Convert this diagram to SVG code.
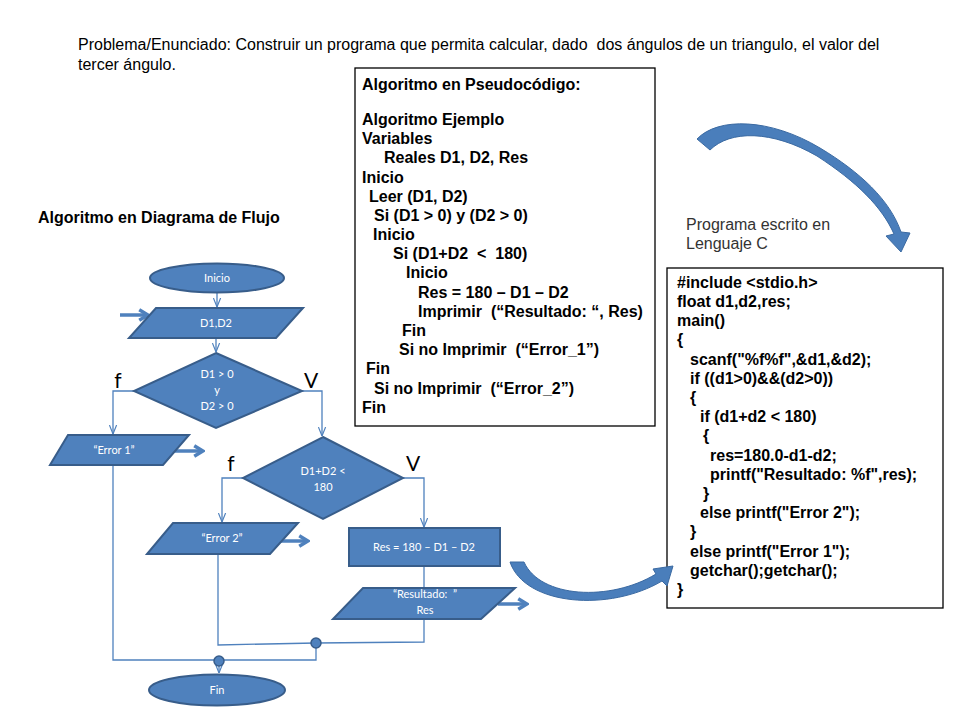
<svg xmlns="http://www.w3.org/2000/svg" width="960" height="720" viewBox="0 0 960 720">
<defs>
<style>
.shape{fill:#4F81BD;stroke:#385D8A;stroke-width:2}
.ft{font-family:Lato,"Open Sans","Liberation Sans",sans-serif;font-size:11px;fill:#ffffff;text-anchor:middle}
.lbl{font-family:Lato,"Open Sans","Liberation Sans",sans-serif;font-size:21px;fill:#000000;text-anchor:middle}
.conn{fill:none;stroke:#4F81BD;stroke-width:1.3}
.thick{fill:none;stroke:#4F81BD;stroke-width:3.5}
.code{font-family:"Liberation Sans",Arial,sans-serif;font-size:16px;font-weight:bold;fill:#000000}
.reg{font-family:"Liberation Sans",Arial,sans-serif;font-size:16px;fill:#000000}
.box{fill:#ffffff;stroke:#000000;stroke-width:1.3}
.big{fill:#4A7EBB;stroke:#3B6AA2;stroke-width:1}
.dot{fill:#4F81BD;stroke:#385D8A;stroke-width:1.5}
</style>
<marker id="v" viewBox="0 0 10 10" refX="10" refY="5" markerWidth="9" markerHeight="9" orient="auto" markerUnits="userSpaceOnUse">
<path d="M0,1 L10,5 L0,9" fill="none" stroke="#4F81BD" stroke-width="1.3"/>
</marker>
<marker id="vt" viewBox="0 0 12 12" refX="10.5" refY="6" markerWidth="14" markerHeight="14" orient="auto" markerUnits="userSpaceOnUse">
<path d="M3,1.5 L10.5,6 L3,10.5" fill="none" stroke="#4F81BD" stroke-width="3"/>
</marker>
</defs>
<rect width="960" height="720" fill="#ffffff"/>

<g id="title">
<text class="reg" x="78" y="50" xml:space="preserve">Problema/Enunciado: Construir un programa que permita calcular, dado  dos ángulos de un triangulo, el valor del</text>
<text class="reg" x="78" y="70">tercer ángulo.</text>
</g>

<g id="pseudocode">
<rect class="box" x="355" y="68" width="300" height="358"/>
<text class="code" x="362" y="90">Algoritmo en Pseudocódigo:</text>
<text class="code" x="362" y="125">Algoritmo Ejemplo</text>
<text class="code" x="362" y="144">Variables</text>
<text class="code" x="384" y="163">Reales D1, D2, Res</text>
<text class="code" x="362" y="183">Inicio</text>
<text class="code" x="369" y="202">Leer (D1, D2)</text>
<text class="code" x="374" y="221">Si (D1 &gt; 0) y (D2 &gt; 0)</text>
<text class="code" x="373" y="240">Inicio</text>
<text class="code" x="393" y="259" xml:space="preserve">Si (D1+D2  &lt;  180)</text>
<text class="code" x="406" y="278">Inicio</text>
<text class="code" x="418" y="298">Res = 180 – D1 – D2</text>
<text class="code" x="418" y="317" xml:space="preserve">Imprimir  (“Resultado: “, Res)</text>
<text class="code" x="402" y="336">Fin</text>
<text class="code" x="399" y="355" xml:space="preserve">Si no Imprimir  (“Error_1”)</text>
<text class="code" x="366" y="374">Fin</text>
<text class="code" x="374" y="394" xml:space="preserve">Si no Imprimir  (“Error_2”)</text>
<text class="code" x="362" y="413">Fin</text>
</g>

<g id="flow-title">
<text class="code" x="38" y="223">Algoritmo en Diagrama de Flujo</text>
</g>

<g id="c-label">
<text class="reg" x="686" y="230" style="fill:#333333">Programa escrito en</text>
<text class="reg" x="686" y="249" style="fill:#333333">Lenguaje C</text>
</g>

<g id="c-code">
<rect class="box" x="667" y="268" width="276" height="340"/>
<text class="code" x="677" y="288">#include &lt;stdio.h&gt;</text>
<text class="code" x="677" y="307">float d1,d2,res;</text>
<text class="code" x="677" y="326">main()</text>
<text class="code" x="677" y="345">{</text>
<text class="code" x="690" y="365">scanf("%f%f",&amp;d1,&amp;d2);</text>
<text class="code" x="690" y="384">if ((d1&gt;0)&amp;&amp;(d2&gt;0))</text>
<text class="code" x="690" y="403">{</text>
<text class="code" x="700" y="422">if (d1+d2 &lt; 180)</text>
<text class="code" x="703" y="441">{</text>
<text class="code" x="710" y="461">res=180.0-d1-d2;</text>
<text class="code" x="710" y="480">printf("Resultado: %f",res);</text>
<text class="code" x="703" y="499">}</text>
<text class="code" x="700" y="518">else printf("Error 2");</text>
<text class="code" x="690" y="537">}</text>
<text class="code" x="690" y="557">else printf("Error 1");</text>
<text class="code" x="690" y="576">getchar();getchar();</text>
<text class="code" x="677" y="595">}</text>
</g>

<g id="connectors">
<line class="conn" x1="217" y1="293" x2="217" y2="307" marker-end="url(#v)"/>
<line class="conn" x1="216" y1="338" x2="216" y2="352" marker-end="url(#v)"/>
<path class="conn" d="M135,391 H113 V434" marker-end="url(#v)"/>
<path class="conn" d="M302,391 H322 V436" marker-end="url(#v)"/>
<path class="conn" d="M244,478 H222 V522" marker-end="url(#v)"/>
<path class="conn" d="M402,478 H424 V527" marker-end="url(#v)"/>
<line class="conn" x1="424" y1="566" x2="424" y2="588"/>
<path class="conn" d="M113,465 V660 H316 V643"/>
<path class="conn" d="M218,554 V645 L316,643 L424,642 V619"/>
<line class="conn" x1="219" y1="661" x2="219" y2="673" marker-end="url(#v)"/>
<line class="thick" x1="120" y1="315" x2="148" y2="315" marker-end="url(#vt)"/>
<line class="thick" x1="175" y1="451" x2="203" y2="451" marker-end="url(#vt)"/>
<line class="thick" x1="281" y1="541" x2="308" y2="541" marker-end="url(#vt)"/>
<line class="thick" x1="498" y1="604" x2="527" y2="604" marker-end="url(#vt)"/>
<circle class="dot" cx="316" cy="643" r="5"/>
<circle class="dot" cx="219" cy="661" r="5"/>
</g>

<g id="inicio">
<ellipse class="shape" cx="217" cy="278" rx="67" ry="14.5"/>
<text class="ft" x="217" y="282">Inicio</text>
</g>
<g id="leer">
<polygon class="shape" points="156,308 303,308 276,338 129,338"/>
<text class="ft" x="216" y="327">D1,D2</text>
</g>
<g id="decision1">
<polygon class="shape" points="216,353 302,391 216,428 134,391"/>
<text class="ft" x="217" y="378">D1 &gt; 0</text>
<text class="ft" x="217" y="394">y</text>
<text class="ft" x="217" y="410">D2 &gt; 0</text>
</g>
<g id="label-f1"><text class="lbl" x="118" y="388">f</text></g>
<g id="label-v1"><text class="lbl" x="311" y="388">V</text></g>
<g id="error1">
<polygon class="shape" points="68,435 189,435 163,465 50,465"/>
<text class="ft" x="114" y="454">“Error 1”</text>
</g>
<g id="decision2">
<polygon class="shape" points="323,437 403,478 323,519 243,478"/>
<text class="ft" x="323" y="475">D1+D2 &lt;</text>
<text class="ft" x="323" y="491">180</text>
</g>
<g id="label-f2"><text class="lbl" x="231" y="471">f</text></g>
<g id="label-v2"><text class="lbl" x="413" y="471">V</text></g>
<g id="error2">
<polygon class="shape" points="173,523 298,523 270,554 147,554"/>
<text class="ft" x="222" y="542">“Error 2”</text>
</g>
<g id="calc">
<rect class="shape" x="349" y="528" width="151" height="38"/>
<text class="ft" x="424" y="551">Res = 180 – D1 – D2</text>
</g>
<g id="resultado">
<polygon class="shape" points="363,588 515,588 481,619 333,619"/>
<text class="ft" x="425" y="598" xml:space="preserve">“Resultado:  ”</text>
<text class="ft" x="425" y="614">Res</text>
</g>
<g id="fin">
<ellipse class="shape" cx="217" cy="690" rx="68" ry="15.5"/>
<text class="ft" x="217" y="694">Fin</text>
</g>

<g id="curved-arrows">
<path class="big" d="M697,139 C718,117 770,118 820,148 C860,172 890,200 901,232 L910,233 L901,252 L886,236 L894,234 C882,207 857,182 817,156 C772,130 730,130 710,150 Z"/>
<path class="big" d="M510,562 L524,562 C540,598 610,602 656,574 L653,569 L673,566 L667,586 L662,581 C610,612 525,606 510,562 Z"/>
</g>
</svg>
